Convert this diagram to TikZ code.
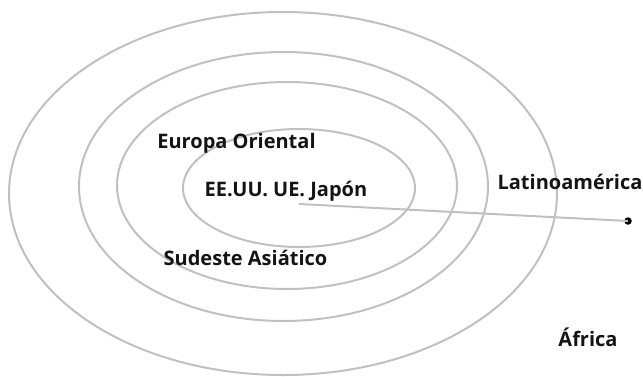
\documentclass[tikz,border=0pt]{standalone}
\usepackage{fontspec}
\setmainfont{Open Sans}
\begin{document}
\begin{tikzpicture}[x=1pt,y=-1pt,
  ring/.style={draw=ringgray,line width=2pt},
  lbl/.style={inner sep=0pt,anchor=base,text=labelblack,font=\fontsize{20}{24}\selectfont\bfseries},
  ]
\definecolor{ringgray}{RGB}{192,192,196}
\definecolor{labelblack}{RGB}{20,20,20}
\useasboundingbox (0,0) rectangle (643,376);
% rings
\draw[ring] (283,193.5) ellipse [x radius=274, y radius=181.5];
\draw[ring] (283.5,186.5) ellipse [x radius=204.5, y radius=134.5];
\draw[ring] (287,185.5) ellipse [x radius=170, y radius=103.5];
\draw[ring] (299,188) ellipse [x radius=116, y radius=59];
% labels
\node[lbl] (eo) at (236.5,148) {Europa Oriental};
\node[lbl] (core) at (286,196.5) {EE.UU. UE. Japón};
\node[lbl] (la) at (570,189) {Latinoamérica};
\node[lbl] (sa) at (245.5,265) {Sudeste Asiático};
\node[lbl] (af) at (588,346) {África};
% pointer
\coordinate (lstart) at (299,204);
\node[circle,fill=black,inner sep=0pt,minimum size=7.5pt] (dot) at (628,221) {};
\draw[draw=ringgray,line width=2pt] (lstart) -- (dot.center);
\end{tikzpicture}
\end{document}
